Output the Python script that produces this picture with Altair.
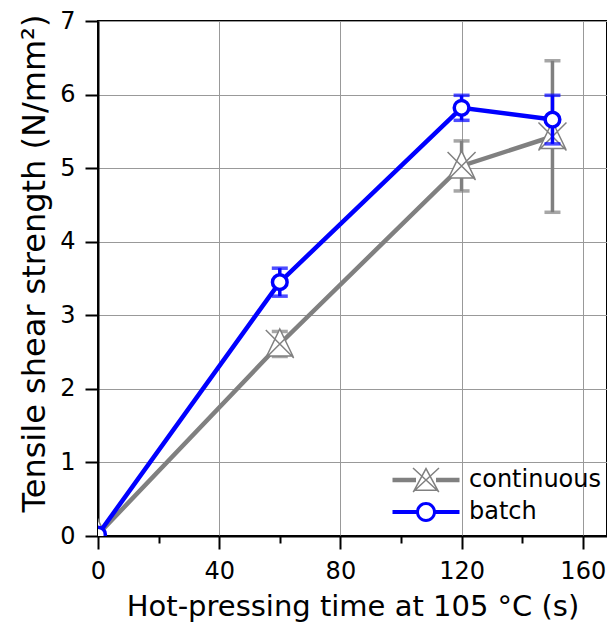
import altair as alt
import pandas as pd

# ---- data ----
times = [0, 60, 120, 150]
cont_mean = [0.02, 2.61, 5.03, 5.43]
cont_err = [0.0, 0.17, 0.34, 1.03]
batch_mean = [0.02, 3.45, 5.82, 5.66]
batch_err = [0.0, 0.19, 0.17, 0.33]

series_names = ["continuous", "batch"]
series_colors = ["#808080", "#0000ff"]

x_minor_ticks = [0, 20, 40, 60, 80, 100, 120, 140, 160]
y_minor_ticks = [0, 0.5, 1, 1.5, 2, 2.5, 3, 3.5, 4, 4.5, 5, 5.5, 6, 6.5, 7]

FONT = "DejaVu Sans"

rows = []
for name, means, errs in [("continuous", cont_mean, cont_err), ("batch", batch_mean, batch_err)]:
    for t, m, e in zip(times, means, errs):
        rows.append({"series": name, "t": t, "mean": m, "lo": m - e, "hi": m + e, "err": e})
df = pd.DataFrame(rows)

# ---- legend symbol paths (line + marker), drawn as filled outlines ----
legend_batch = (
    "M-3.35,-0.2L-0.97,-0.2L-0.97,0.2L-3.35,0.2Z"
    "M0.97,-0.2L3.35,-0.2L3.35,0.2L0.97,0.2Z"
    "M1,0A1,1,0,1,1,-1,0A1,1,0,1,1,1,0Z"
    "M0.7,0A0.7,0.7,0,1,0,-0.7,0A0.7,0.7,0,1,0,0.7,0Z"
)
legend_cont = (
    "M-3.35,-0.22L-1,-0.22L-1,0.22L-3.35,0.22Z"
    "M1,-0.22L3.35,-0.22L3.35,0.22L1,0.22Z"
    "M0,-1.3L1.3,1.1L-1.3,1.1Z"
    "M0,-0.98L-1.045,0.95L1.045,0.95Z"
    "M-1.351,-1.145L-1.249,-1.255L1.351,1.145L1.249,1.255Z"
    "M1.351,-1.145L-1.249,1.255L-1.351,1.145L1.249,-1.255Z"
)
tri_x_marker = "M0,-1.5L1.3,1.2L-1.3,1.2Z M-1.4,-1.4L1.4,1.4 M1.4,-1.4L-1.4,1.4"

xaxis = alt.Axis(
    values=x_minor_ticks,
    labelExpr="datum.value % 40 == 0 ? format(datum.value, 'd') : ''",
    tickSize={"condition": {"test": "datum.value % 40 != 0", "value": 7}, "value": 13},
    gridOpacity={"condition": {"test": "datum.value % 40 != 0", "value": 0}, "value": 1},
    grid=True, gridColor="#999999", gridWidth=1,
    domainColor="black", domainWidth=2, tickColor="black", tickWidth=2,
    labelFont=FONT, labelFontSize=24, labelColor="black", labelPadding=10, labelFlush=False,
    title="Hot-pressing time at 105 °C (s)", titleFont=FONT, titleFontSize=29,
    titleFontWeight="normal", titleColor="black", titlePadding=9,
)
yaxis = alt.Axis(
    values=y_minor_ticks,
    labelExpr="datum.value % 1 == 0 ? format(datum.value, 'd') : ''",
    tickSize={"condition": {"test": "datum.value % 1 != 0", "value": 7}, "value": 13},
    gridOpacity={"condition": {"test": "datum.value % 1 != 0", "value": 0}, "value": 1},
    grid=True, gridColor="#999999", gridWidth=1,
    domainColor="black", domainWidth=2, tickColor="black", tickWidth=2,
    labelFont=FONT, labelFontSize=24, labelColor="black", labelPadding=10, labelFlush=False,
    title="Tensile shear strength (N/mm²)", titleFont=FONT, titleFontSize=32,
    titleFontWeight="normal", titleColor="black", titlePadding=8, titleY=242,
)

X = alt.X("t:Q", scale=alt.Scale(domain=[0, 168], nice=False, zero=False), axis=xaxis)
Y = alt.Y("mean:Q", scale=alt.Scale(domain=[0, 7], nice=False, zero=False), axis=yaxis)

base = alt.Chart(df)


def series_layers(name, color):
    d = base.transform_filter(alt.datum.series == name)
    line = d.mark_line(color=color, strokeWidth=4.5, clip=True).encode(x=X, y=Y)
    eb = d.transform_filter(alt.datum.err > 0)
    rule = eb.mark_rule(color=color, strokeWidth=3.5, clip=True).encode(
        x="t:Q", y="lo:Q", y2="hi:Q")
    cap_lo = eb.mark_tick(color=color, orient="horizontal", size=16, thickness=3.5, clip=True).encode(
        x="t:Q", y="lo:Q")
    cap_hi = eb.mark_tick(color=color, orient="horizontal", size=16, thickness=3.5, clip=True).encode(
        x="t:Q", y="hi:Q")
    if name == "batch":
        pts = d.mark_point(shape="circle", filled=False, fill="white", fillOpacity=1,
                           stroke=color, strokeWidth=3.5, size=215, opacity=1, clip=True).encode(x=X, y=Y)
    else:
        pts = d.mark_point(shape=tri_x_marker, filled=False, fill="white", fillOpacity=1,
                           stroke=color, strokeWidth=1.5, size=400, opacity=1, clip=True).encode(x=X, y=Y)
    return [line, rule, cap_lo, cap_hi, pts]


leg = alt.Legend(
    title=None, orient="none", legendX=316, legendY=447,
    symbolSize=400, symbolStrokeWidth=0, symbolOpacity=1,
    labelFont=FONT, labelFontSize=24, labelColor="black", labelOffset=31,
    rowPadding=7, padding=0,
)
legend_layer = base.transform_filter("false").mark_point(filled=True).encode(
    x=X, y=Y,
    color=alt.Color("series:N", scale=alt.Scale(domain=series_names, range=series_colors), legend=leg),
    shape=alt.Shape("series:N", scale=alt.Scale(domain=series_names, range=[legend_cont, legend_batch]), legend=leg),
)

layers = series_layers("continuous", series_colors[0]) + series_layers("batch", series_colors[1]) + [legend_layer]

chart = alt.layer(*layers).properties(
    width=509, height=515,
    autosize=alt.AutoSizeParams(type="none"),
    padding={"left": 90, "top": 13, "right": 0, "bottom": 88},
    background="white",
).configure_view(stroke="black", strokeWidth=2)

chart.save("out.html", embed_options={"renderer": "svg", "actions": False})
